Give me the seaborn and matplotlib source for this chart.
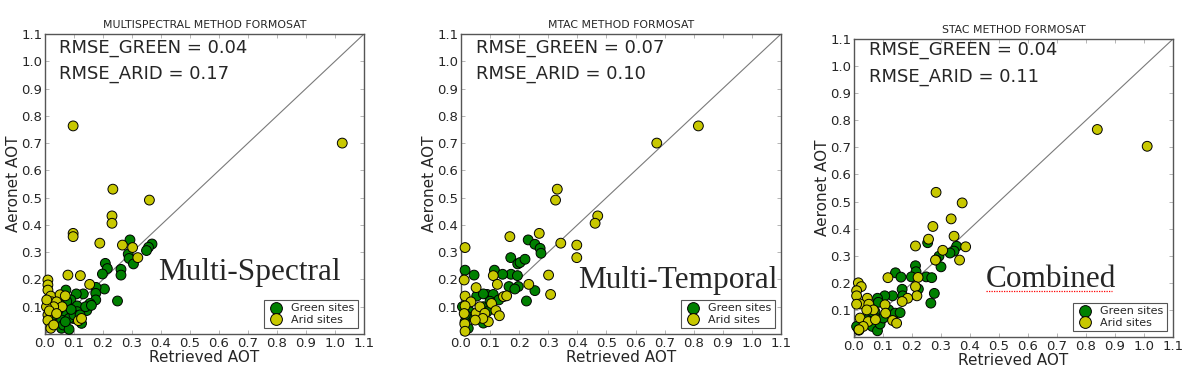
import matplotlib
matplotlib.use("Agg")
import matplotlib.pyplot as plt
import seaborn as sns
import pandas as pd

# ---------------- data ----------------
titles = ["MULTISPECTRAL METHOD FORMOSAT", "MTAC METHOD FORMOSAT", "STAC METHOD FORMOSAT"]
method_labels = ["Multi-Spectral", "Multi-Temporal", "Combined"]
rmse_green = ["0.04", "0.07", "0.04"]
rmse_arid = ["0.17", "0.10", "0.11"]
site_names = ["Green sites", "Arid sites"]
tick_values = [0.0, 0.1, 0.2, 0.3, 0.4, 0.5, 0.6, 0.7, 0.8, 0.9, 1.0, 1.1]
ytick_values = [0.1, 0.2, 0.3, 0.4, 0.5, 0.6, 0.7, 0.8, 0.9, 1.0, 1.1]
diag_line = [0.0, 1.1]

ms_green_x = [0.293, 0.369, 0.357, 0.35, 0.287, 0.29, 0.305, 0.208, 0.215, 0.198,
              0.262, 0.262, 0.205, 0.176, 0.25, 0.175, 0.175, 0.155, 0.144, 0.132,
              0.108, 0.072, 0.089, 0.08, 0.111, 0.111, 0.098, 0.126, 0.063, 0.057,
              0.057, 0.063, 0.083, 0.031, 0.046, 0.083, 0.1, 0.121, 0.075, 0.09,
              0.14, 0.16, 0.05, 0.07]
ms_green_y = [0.345, 0.33, 0.318, 0.306, 0.293, 0.277, 0.257, 0.259, 0.24, 0.22,
              0.237, 0.216, 0.165, 0.171, 0.121, 0.149, 0.125, 0.112, 0.086, 0.147,
              0.147, 0.161, 0.125, 0.1, 0.103, 0.082, 0.057, 0.039, 0.082, 0.051,
              0.021, 0.033, 0.017, 0.07, 0.088, 0.057, 0.07, 0.07, 0.12, 0.09,
              0.1, 0.105, 0.11, 0.045]
ms_arid_x = [0.097, 1.025, 0.234, 0.36, 0.231, 0.231, 0.097, 0.097, 0.189, 0.267,
             0.302, 0.32, 0.079, 0.122, 0.154, 0.01, 0.01, 0.01, 0.02, 0.052,
             0.07, 0.023, 0.04, 0.059, 0.03, 0.005, 0.01, 0.01, 0.02, 0.03,
             0.115, 0.126, 0.006, 0.015, 0.04]
ms_arid_y = [0.763, 0.70, 0.531, 0.491, 0.433, 0.406, 0.369, 0.357, 0.333, 0.326,
             0.317, 0.28, 0.216, 0.214, 0.182, 0.198, 0.18, 0.161, 0.139, 0.144,
             0.14, 0.118, 0.118, 0.1, 0.1, 0.1, 0.07, 0.05, 0.021, 0.033,
             0.049, 0.057, 0.125, 0.085, 0.075]

mt_green_x = [0.231, 0.254, 0.272, 0.275, 0.171, 0.195, 0.203, 0.22, 0.172, 0.194,
              0.165, 0.197, 0.254, 0.225, 0.014, 0.045, 0.115, 0.143, 0.09, 0.111,
              0.054, 0.077, 0.025, 0.03, 0.04, 0.014, 0.025, 0.077, 0.09, 0.077,
              0.06, 0.1, 0.005, 0.015, 0.13, 0.185]
mt_green_y = [0.345, 0.329, 0.314, 0.296, 0.28, 0.257, 0.262, 0.274, 0.219, 0.214,
              0.174, 0.174, 0.159, 0.121, 0.234, 0.216, 0.234, 0.219, 0.145, 0.145,
              0.139, 0.147, 0.112, 0.082, 0.063, 0.045, 0.021, 0.1, 0.082, 0.04,
              0.07, 0.12, 0.1, 0.07, 0.125, 0.165]
mt_arid_x = [0.816, 0.673, 0.331, 0.325, 0.47, 0.461, 0.269, 0.168, 0.343, 0.398,
             0.398, 0.014, 0.011, 0.301, 0.308, 0.233, 0.111, 0.125, 0.052, 0.014,
             0.034, 0.014, 0.011, 0.052, 0.065, 0.082, 0.094, 0.075, 0.105, 0.12,
             0.132, 0.146, 0.157, 0.013, 0.049, 0.014]
mt_arid_y = [0.763, 0.70, 0.531, 0.491, 0.433, 0.406, 0.369, 0.357, 0.333, 0.326,
             0.28, 0.317, 0.198, 0.216, 0.145, 0.182, 0.214, 0.182, 0.17, 0.139,
             0.118, 0.103, 0.075, 0.076, 0.1, 0.076, 0.045, 0.057, 0.112, 0.086,
             0.067, 0.137, 0.14, 0.037, 0.051, 0.01]

cb_green_x = [0.254, 0.354, 0.345, 0.331, 0.293, 0.283, 0.3, 0.212, 0.214, 0.198,
              0.249, 0.268, 0.143, 0.162, 0.166, 0.222, 0.277, 0.265, 0.168, 0.133,
              0.106, 0.081, 0.084, 0.072, 0.055, 0.081, 0.063, 0.081, 0.09, 0.009,
              0.017, 0.12, 0.125, 0.142, 0.159, 0.101, 0.044]
cb_green_y = [0.348, 0.335, 0.317, 0.31, 0.298, 0.284, 0.259, 0.263, 0.241, 0.222,
              0.222, 0.219, 0.237, 0.221, 0.176, 0.177, 0.161, 0.125, 0.152, 0.152,
              0.152, 0.143, 0.128, 0.094, 0.079, 0.067, 0.039, 0.023, 0.048, 0.039,
              0.025, 0.1, 0.076, 0.088, 0.09, 0.07, 0.064]
cb_arid_x = [0.839, 1.011, 0.283, 0.373, 0.335, 0.272, 0.345, 0.257, 0.212, 0.385,
             0.306, 0.364, 0.281, 0.117, 0.221, 0.212, 0.217, 0.185, 0.166, 0.015,
             0.025, 0.009, 0.009, 0.046, 0.021, 0.051, 0.067, 0.044, 0.021, 0.049,
             0.074, 0.032, 0.017, 0.107, 0.109, 0.133, 0.147, 0.009]
cb_arid_y = [0.766, 0.704, 0.534, 0.495, 0.436, 0.408, 0.372, 0.361, 0.336, 0.333,
             0.32, 0.284, 0.284, 0.219, 0.22, 0.186, 0.152, 0.143, 0.131, 0.2,
             0.186, 0.171, 0.152, 0.143, 0.122, 0.121, 0.1, 0.1, 0.07, 0.057,
             0.064, 0.039, 0.027, 0.119, 0.088, 0.061, 0.051, 0.121]

panels_green = [(ms_green_x, ms_green_y), (mt_green_x, mt_green_y), (cb_green_x, cb_green_y)]
panels_arid = [(ms_arid_x, ms_arid_y), (mt_arid_x, mt_arid_y), (cb_arid_x, cb_arid_y)]

# ---------------- style ----------------
sns.set_style("white")
plt.rcParams["font.family"] = ["DejaVu Sans"]

GREEN = "#008000"
YELLOW = "#c8c800"
palette = {site_names[0]: GREEN, site_names[1]: YELLOW}

fig = plt.figure(figsize=(11.92, 3.75), dpi=100)
fig.patch.set_facecolor("white")

axes_pos = [
    [45 / 1192, 41 / 375, 319 / 1192, 300 / 375],
    [461 / 1192, 41 / 375, 320 / 1192, 300 / 375],
    [854 / 1192, 38 / 375, 319 / 1192, 298 / 375],
]
label_pos = [(0.354, 0.18), (0.366, 0.153), (0.414, 0.168)]
rmse_pos = [(0.044, 0.937, 0.85), (0.047, 0.937, 0.85), (0.047, 0.946, 0.856)]

for i in range(3):
    ax = fig.add_axes(axes_pos[i])
    gx, gy = panels_green[i]
    axx, axy = panels_arid[i]
    df = pd.DataFrame({
        "x": list(gx) + list(axx),
        "y": list(gy) + list(axy),
        "site": [site_names[0]] * len(gx) + [site_names[1]] * len(axx),
    })
    ax.plot(diag_line, diag_line, color="#7a7a7a", lw=0.8, zorder=1)
    sns.scatterplot(data=df, x="x", y="y", hue="site", palette=palette,
                    hue_order=site_names, s=50, edgecolor="black", linewidth=0.7,
                    ax=ax, zorder=3, clip_on=False, legend=True)
    ax.set_xlim(0, 1.1)
    ax.set_ylim(0, 1.1)
    ax.set_xticks(tick_values)
    ax.set_xticklabels([f"{v:.1f}" for v in tick_values])
    ax.set_yticks(ytick_values)
    ax.set_yticklabels([f"{v:.1f}" for v in ytick_values])
    ax.tick_params(axis="both", which="both", direction="in", length=3, width=0.5,
                   color="#999999", labelsize=9.5, pad=2,
                   top=True, right=True, bottom=True, left=True)
    for sp in ax.spines.values():
        sp.set_color("#555555")
        sp.set_linewidth(1.0)
    ax.set_xlabel("Retrieved AOT", fontsize=11, labelpad=0)
    ax.set_ylabel("Aeronet AOT", fontsize=11, labelpad=0)
    ax.set_title(titles[i], fontsize=7.8, pad=4)

    rx, ry1, ry2 = rmse_pos[i]
    ax.text(rx, ry1, f"RMSE_GREEN = {rmse_green[i]}", transform=ax.transAxes,
            fontsize=13, va="baseline", ha="left")
    ax.text(rx, ry2, f"RMSE_ARID = {rmse_arid[i]}", transform=ax.transAxes,
            fontsize=13, va="baseline", ha="left")

    lx, ly = label_pos[i]
    ax.text(lx, ly, method_labels[i], transform=ax.transAxes,
            fontsize=22.5, family=["Liberation Serif"], va="baseline", ha="left",
            zorder=5)
    if i == 2:
        ax.plot([0.413, 0.81], [0.155, 0.155], transform=ax.transAxes,
                color="red", lw=0.9, ls=(0, (1, 1)), zorder=5)

    handles, labels = ax.get_legend_handles_labels()
    leg = ax.legend(handles, labels, loc="lower right", fontsize=8,
                    frameon=True, fancybox=False, borderaxespad=0.55,
                    borderpad=0.3, labelspacing=0.1, handletextpad=0.6,
                    handlelength=1.6, markerscale=1.2)
    leg.get_frame().set_edgecolor("#555555")
    leg.get_frame().set_linewidth(0.8)
    leg.get_frame().set_alpha(1)

fig.savefig("out.png", dpi=100, facecolor="white")
